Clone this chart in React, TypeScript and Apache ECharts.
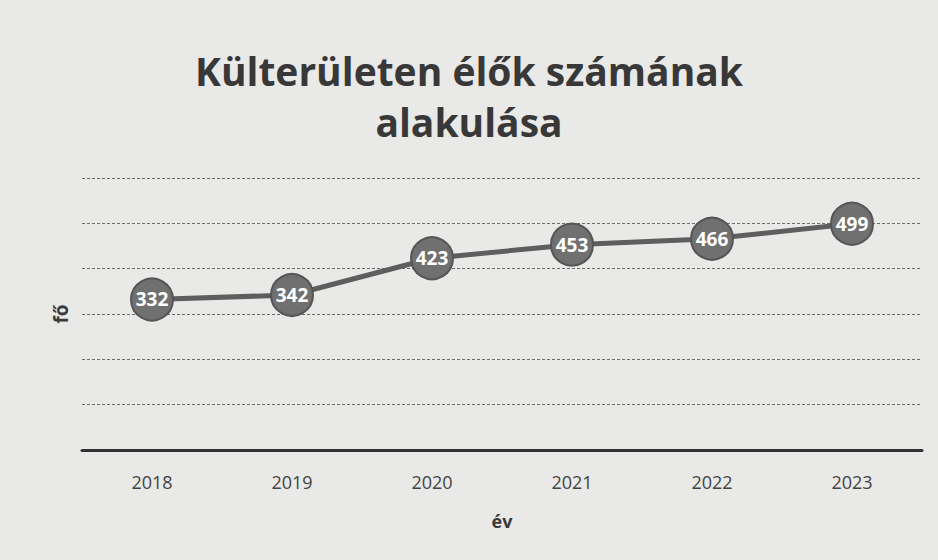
import React, { useEffect, useRef } from "react";
import * as echarts from "echarts";

const years = ["2018", "2019", "2020", "2021", "2022", "2023"];
const counts = [332, 342, 423, 453, 466, 499];
const titleText = "Külterületen élők számának\nalakulása";
const xName = "év";
const yName = "fő";

export default function App() {
  const ref = useRef<HTMLDivElement>(null);
  useEffect(() => {
    document.body.style.margin = "0";
    const chart = echarts.init(ref.current!, null, { renderer: "svg" });
    chart.setOption({
      animation: false,
      backgroundColor: "#e9e9e7",
      title: {
        text: titleText,
        left: "center",
        top: 40,
        textStyle: {
          fontFamily: "Open Sans",
          fontWeight: "bold",
          fontSize: 39,
          lineHeight: 51,
          color: "#383838",
        },
      },
      grid: { left: 82, right: 16, top: 178, bottom: 110 },
      xAxis: {
        type: "category",
        data: years,
        boundaryGap: true,
        name: xName,
        nameLocation: "middle",
        nameGap: 62,
        nameTextStyle: { fontFamily: "Open Sans", fontWeight: "bold", fontSize: 18, color: "#3a3a3a" },
        axisLine: { lineStyle: { color: "#333", width: 3 } },
        axisTick: { show: false },
        axisLabel: { fontFamily: "Open Sans", fontSize: 18, color: "#444", margin: 23 },
      },
      yAxis: {
        type: "value",
        min: 0,
        max: 600,
        interval: 100,
        name: yName,
        nameLocation: "middle",
        nameGap: 12,
        nameRotate: 90,
        nameTextStyle: { fontFamily: "Open Sans", fontWeight: "bold", fontSize: 19, color: "#3a3a3a" },
        axisLabel: { show: false },
        axisLine: { show: false },
        axisTick: { show: false },
        splitLine: { lineStyle: { color: "#6a6a6a", width: 1, type: [3, 2] } },
      },
      series: [
        {
          type: "line",
          data: counts,
          symbol: "circle",
          symbolSize: 42,
          lineStyle: { color: "#5e5e5e", width: 5 },
          itemStyle: { color: "#707070", borderColor: "#555", borderWidth: 2 },
          label: {
            show: true,
            position: "inside",
            fontFamily: "Open Sans",
            fontWeight: "bold",
            fontSize: 19,
            color: "#fff",
          },
          z: 3,
        },
      ],
    });
    return () => chart.dispose();
  }, []);
  return <div ref={ref} style={{ width: 938, height: 560 }} />;
}
